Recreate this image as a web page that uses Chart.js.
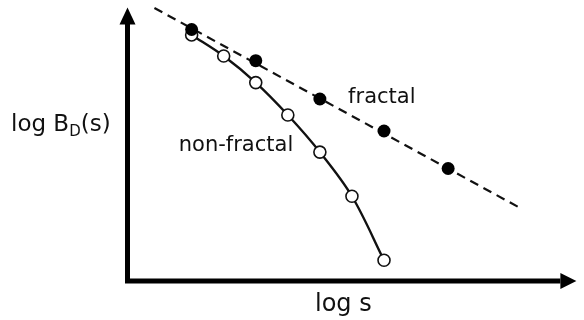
<!DOCTYPE html>
<html>
<head>
<meta charset="utf-8">
<script src="https://cdn.jsdelivr.net/npm/chart.js@4"></script>
<style>
  html, body { margin: 0; padding: 0; background: #fff; }
  #wrap { width: 584px; height: 320px; }
</style>
</head>
<body>
<div id="wrap"><canvas id="chart" width="584" height="320"></canvas></div>
<script>
// log s positions and log B_D(s) values
const fractalX = [1, 2, 3, 4, 5];
const fractalY = [6.44, 5.64, 4.66, 3.84, 2.88];
const nonFractalX = [1, 1.5, 2, 2.5, 3, 3.5, 4];
const nonFractalY = [6.30, 5.76, 5.08, 4.25, 3.30, 2.17, 0.53];
// dashed power-law guide line (ends)
const guideX = [0.42, 6.11];
const guideY = [6.99, 1.88];

const toPoints = (xs, ys) => xs.map((x, i) => ({ x: x, y: ys[i] }));

// axes with arrows, plus the labels
const sketchPlugin = {
  id: 'sketch',
  beforeDatasetsDraw(chart) {
    const ctx = chart.ctx;
    const a = chart.chartArea;
    ctx.save();
    ctx.strokeStyle = '#000';
    ctx.fillStyle = '#000';
    ctx.lineWidth = 5;
    ctx.beginPath();
    ctx.moveTo(a.left, 20);
    ctx.lineTo(a.left, a.bottom);
    ctx.lineTo(a.right - 16, a.bottom);
    ctx.stroke();
    // up arrow
    ctx.beginPath();
    ctx.moveTo(a.left, a.top);
    ctx.lineTo(a.left - 8, a.top + 17);
    ctx.lineTo(a.left + 8, a.top + 17);
    ctx.closePath();
    ctx.fill();
    // right arrow
    ctx.beginPath();
    ctx.moveTo(a.right, a.bottom);
    ctx.lineTo(a.right - 16, a.bottom - 8);
    ctx.lineTo(a.right - 16, a.bottom + 8);
    ctx.closePath();
    ctx.fill();
    ctx.restore();
  },
  afterDatasetsDraw(chart) {
    const ctx = chart.ctx;
    const xs = chart.scales.x, ys = chart.scales.y;
    ctx.save();
    ctx.fillStyle = '#111';
    ctx.textBaseline = 'alphabetic';
    ctx.textAlign = 'left';
    ctx.font = '21px "DejaVu Sans"';
    ctx.fillText('fractal', xs.getPixelForValue(3.44), ys.getPixelForValue(4.57));
    ctx.fillText('non-fractal', xs.getPixelForValue(0.8), ys.getPixelForValue(3.34));
    // x title
    ctx.font = '24px "DejaVu Sans"';
    ctx.fillText('log s', 315, 311);
    // y title with subscript
    let x = 11;
    const base = 130.5;
    ctx.font = '23px "DejaVu Sans"';
    ctx.fillText('log B', x, base);
    x += ctx.measureText('log B').width;
    ctx.font = '15px "DejaVu Sans"';
    ctx.fillText('D', x, base + 5);
    x += ctx.measureText('D').width;
    ctx.font = '23px "DejaVu Sans"';
    ctx.fillText('(s)', x, base);
    ctx.restore();
  }
};

new Chart(document.getElementById('chart'), {
  type: 'scatter',
  data: {
    datasets: [
      {
        label: 'fractal guide',
        data: toPoints(guideX, guideY),
        showLine: true,
        borderColor: '#111',
        borderWidth: 2.2,
        borderDash: [9, 6],
        pointRadius: 0,
        order: 4,
      },
      {
        label: 'non-fractal',
        data: toPoints(nonFractalX, nonFractalY),
        showLine: true,
        borderColor: '#111',
        borderWidth: 2.4,
        tension: 0.35,
        pointRadius: 6,
        pointBorderWidth: 1.6,
        pointBorderColor: '#111',
        pointBackgroundColor: '#fff',
        order: 2,
      },
      {
        label: 'fractal',
        data: toPoints(fractalX, fractalY),
        showLine: false,
        pointRadius: 6.5,
        pointBorderWidth: 0,
        pointBackgroundColor: '#000',
        order: 1,
      },
    ],
  },
  options: {
    responsive: false,
    animation: false,
    events: [],
    clip: false,
    layout: { padding: { left: 127.5, right: 1.3, top: 4, bottom: 39 } },
    plugins: {
      legend: { display: false },
      tooltip: { enabled: false },
    },
    scales: {
      x: { type: 'linear', min: 0, max: 7, display: false },
      y: { type: 'linear', min: 0, max: 7, display: false },
    },
  },
  plugins: [sketchPlugin],
});
</script>
</body>
</html>
